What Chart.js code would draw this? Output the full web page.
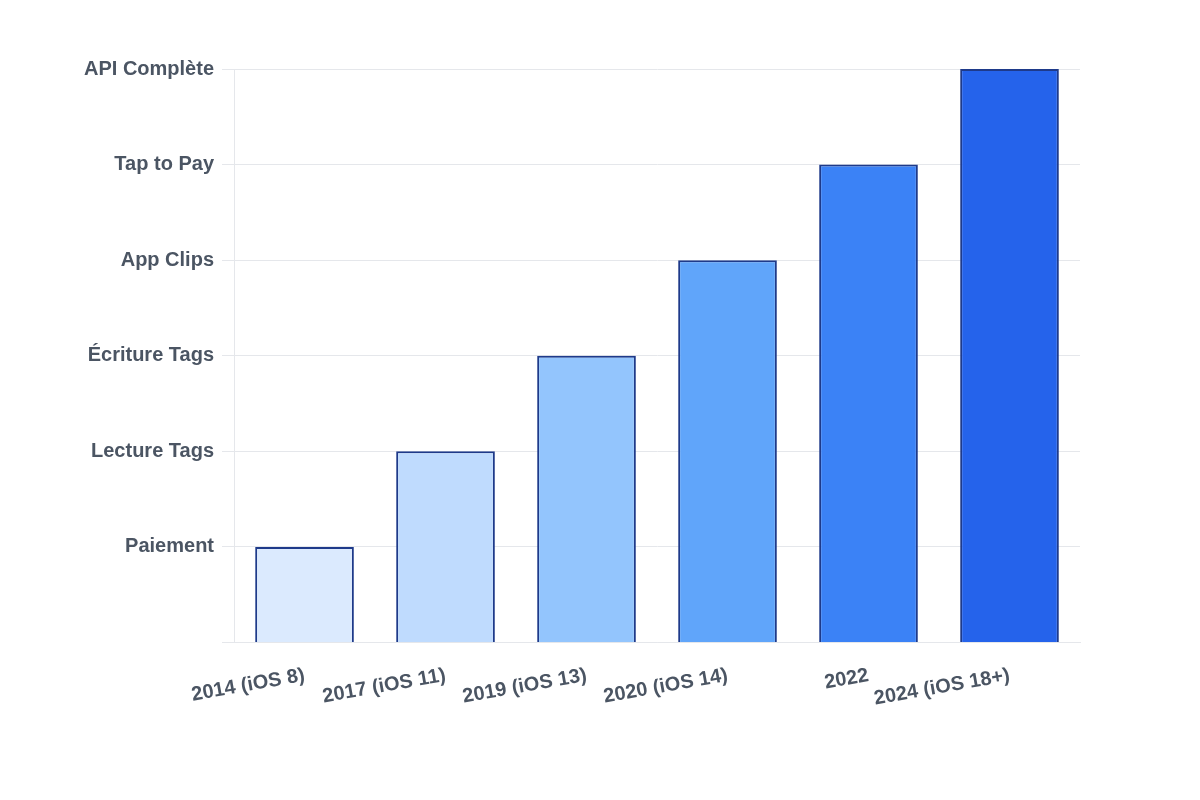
<!DOCTYPE html>
<html>
<head>
<meta charset="utf-8">
<script src="https://cdn.jsdelivr.net/npm/chart.js@4.4.1/dist/chart.umd.min.js"></script>
<style>
  html, body { margin: 0; padding: 0; background: #fff; }
  #wrap { width: 1200px; height: 800px; }
</style>
</head>
<body>
<div id="wrap"><canvas id="myChart"></canvas></div>
<script>
const categories = ["2014 (iOS 8)", "2017 (iOS 11)", "2019 (iOS 13)", "2020 (iOS 14)", "2022", "2024 (iOS 18+)"];
const levels = [1, 2, 3, 4, 5, 6];
const levelNames = ["", "Paiement", "Lecture Tags", "Écriture Tags", "App Clips", "Tap to Pay", "API Complète"];
const barColors = ["#dbeafe", "#bfdbfe", "#93c5fd", "#60a5fa", "#3b82f6", "#2563eb"];

const tickFont = { family: "'Liberation Sans', Arial, sans-serif", size: 20, weight: "bold" };

var chart = new Chart("myChart", {
  type: "bar",
  data: {
    labels: categories,
    datasets: [{
      data: levels,
      backgroundColor: barColors,
      borderColor: "#1e3a8a",
      borderWidth: 2,
      barPercentage: 0.875,
      categoryPercentage: 0.8
    }]
  },
  options: {
    responsive: true,
    maintainAspectRatio: false,
    animation: false,
    layout: { padding: { left: 76, right: 120, top: 69, bottom: 76 } },
    plugins: {
      legend: { display: false },
      tooltip: { enabled: false }
    },
    scales: {
      x: {
        grid: { display: false },
        border: { display: true, color: "#e5e7eb" },
        ticks: { color: "#4b5563", font: tickFont, padding: 13, autoSkip: false, minRotation: 10, maxRotation: 10 }
      },
      y: {
        min: 0,
        max: 6,
        grid: { color: "#e5e7eb", tickLength: 12 },
        border: { color: "#e5e7eb" },
        ticks: {
          stepSize: 1,
          padding: 8,
          color: "#4b5563",
          font: tickFont,
          callback: function (v) { return levelNames[v]; }
        }
      }
    }
  }
});
</script>
</body>
</html>
